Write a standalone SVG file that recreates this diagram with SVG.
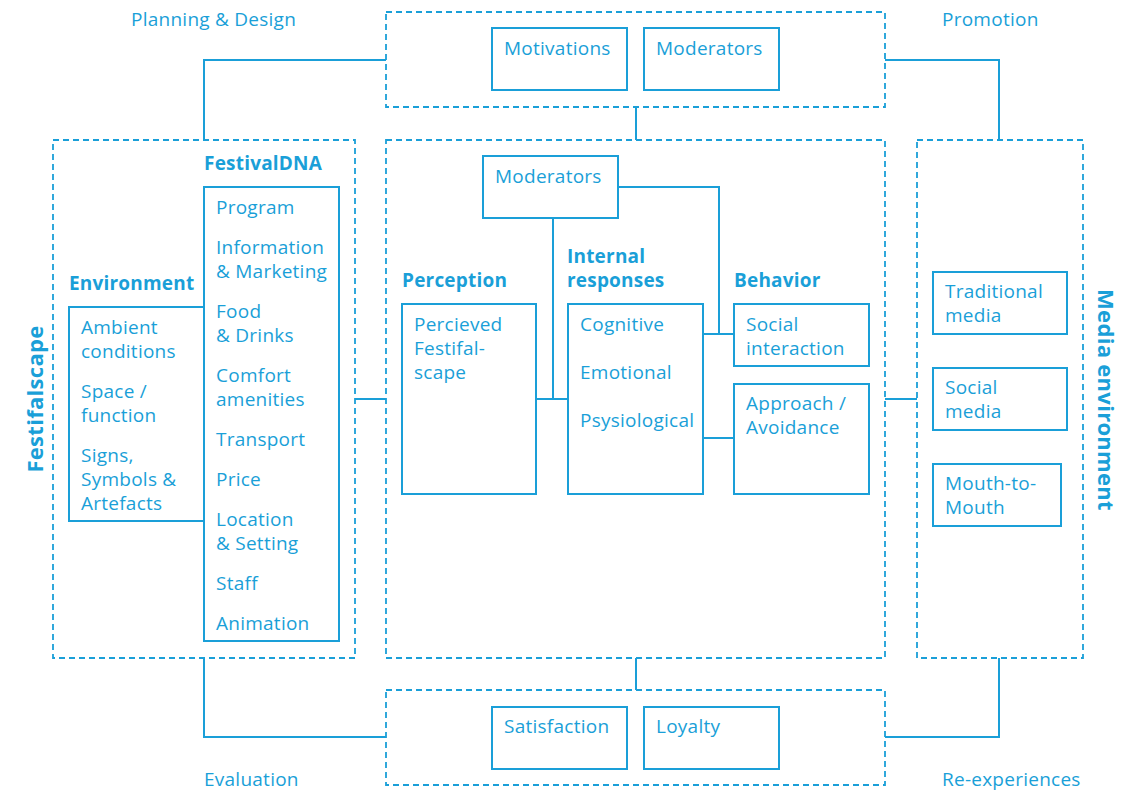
<svg xmlns="http://www.w3.org/2000/svg" width="1137" height="792" viewBox="0 0 1137 792">
<style>
.dash{fill:none;stroke:#1a9fd8;stroke-width:1.8;stroke-dasharray:6 4}
.box{fill:#fff;stroke:#1a9fd8;stroke-width:2}
.ln{fill:none;stroke:#1a9fd8;stroke-width:2}
text{font-family:"Open Sans","Noto Sans","Liberation Sans",sans-serif;fill:#1a9fd8;font-size:19px;letter-spacing:0.25px}
.b{font-weight:bold;font-size:19px;letter-spacing:0.2px}
.v{font-weight:bold;font-size:22px;letter-spacing:0.3px}
</style>
<rect width="1137" height="792" fill="#fff"/>
<g id="connectors">
<path class="ln" d="M204,140 V60 H386"/>
<path class="ln" d="M885,60 H999 V140"/>
<path class="ln" d="M636,107 V140"/>
<path class="ln" d="M636,658 V690"/>
<path class="ln" d="M204,658 V737 H386"/>
<path class="ln" d="M885,737 H999 V658"/>
<path class="ln" d="M355,399 H386"/>
<path class="ln" d="M885,399 H917"/>
<path class="ln" d="M553,218 V399"/>
<path class="ln" d="M536,399 H568"/>
<path class="ln" d="M618,187 H719 V334"/>
<path class="ln" d="M703,334 H734"/>
<path class="ln" d="M703,438 H734"/>
</g>
<g id="top-group">
<rect class="dash" x="386" y="12" width="499" height="95"/>
</g>
<g id="center-group">
<rect class="dash" x="386" y="140" width="499" height="518"/>
</g>
<g id="left-group">
<rect class="dash" x="53" y="140" width="302" height="518"/>
<text class="v" transform="translate(43,399) rotate(-90)" text-anchor="middle">Festifalscape</text>
</g>
<g id="right-group">
<rect class="dash" x="917" y="140" width="166" height="518"/>
<text class="v" transform="translate(1098,400) rotate(90)" text-anchor="middle">Media environment</text>
</g>
<g id="bottom-group">
<rect class="dash" x="386" y="690" width="499" height="95"/>
</g>
<g id="labels">
<text x="131" y="26">Planning &amp; Design</text>
<text x="942" y="26">Promotion</text>
<text x="204" y="786">Evaluation</text>
<text x="942" y="786">Re-experiences</text>
</g>
<g id="motivations">
<rect class="box" x="492" y="28" width="135" height="62"/>
<text x="504" y="55">Motivations</text>
</g>
<g id="moderators-top">
<rect class="box" x="644" y="28" width="135" height="62"/>
<text x="656" y="55">Moderators</text>
</g>
<g id="satisfaction">
<rect class="box" x="492" y="707" width="135" height="62"/>
<text x="504" y="733">Satisfaction</text>
</g>
<g id="loyalty">
<rect class="box" x="644" y="707" width="135" height="62"/>
<text x="656" y="733">Loyalty</text>
</g>
<g id="festivaldna">
<text class="b" x="204" y="170">FestivalDNA</text>
<rect class="box" x="204" y="187" width="135" height="454"/>
<text x="216" y="214">Program</text>
<text x="216" y="254">Information</text>
<text x="216" y="278">&amp; Marketing</text>
<text x="216" y="318">Food</text>
<text x="216" y="342">&amp; Drinks</text>
<text x="216" y="382">Comfort</text>
<text x="216" y="406">amenities</text>
<text x="216" y="446">Transport</text>
<text x="216" y="486">Price</text>
<text x="216" y="526">Location</text>
<text x="216" y="550">&amp; Setting</text>
<text x="216" y="590">Staff</text>
<text x="216" y="630">Animation</text>
</g>
<g id="environment">
<text class="b" x="69" y="290">Environment</text>
<rect class="box" x="69" y="307" width="135" height="214"/>
<text x="81" y="334">Ambient</text>
<text x="81" y="358">conditions</text>
<text x="81" y="398">Space /</text>
<text x="81" y="422">function</text>
<text x="81" y="462">Signs,</text>
<text x="81" y="486">Symbols &amp;</text>
<text x="81" y="510">Artefacts</text>
</g>
<g id="moderators-center">
<rect class="box" x="483" y="156" width="135" height="62"/>
<text x="495" y="183">Moderators</text>
</g>
<g id="perception">
<text class="b" x="402" y="287">Perception</text>
<rect class="box" x="402" y="304" width="134" height="190"/>
<text x="414" y="331">Percieved</text>
<text x="414" y="355">Festifal-</text>
<text x="414" y="379">scape</text>
</g>
<g id="internal-responses">
<text class="b" x="567" y="263">Internal</text>
<text class="b" x="567" y="287">responses</text>
<rect class="box" x="568" y="304" width="135" height="190"/>
<text x="580" y="331">Cognitive</text>
<text x="580" y="379">Emotional</text>
<text x="580" y="427">Psysiological</text>
</g>
<g id="social-interaction">
<text class="b" x="734" y="287">Behavior</text>
<rect class="box" x="734" y="304" width="135" height="62"/>
<text x="746" y="331">Social</text>
<text x="746" y="355">interaction</text>
</g>
<g id="approach-avoidance">
<rect class="box" x="734" y="384" width="135" height="110"/>
<text x="746" y="410">Approach /</text>
<text x="746" y="434">Avoidance</text>
</g>
<g id="traditional-media">
<rect class="box" x="933" y="272" width="134" height="62"/>
<text x="945" y="298">Traditional</text>
<text x="945" y="322">media</text>
</g>
<g id="social-media">
<rect class="box" x="933" y="368" width="134" height="62"/>
<text x="945" y="394">Social</text>
<text x="945" y="418">media</text>
</g>
<g id="mouth-to-mouth">
<rect class="box" x="933" y="464" width="128" height="62"/>
<text x="945" y="490">Mouth-to-</text>
<text x="945" y="514">Mouth</text>
</g>
</svg>
